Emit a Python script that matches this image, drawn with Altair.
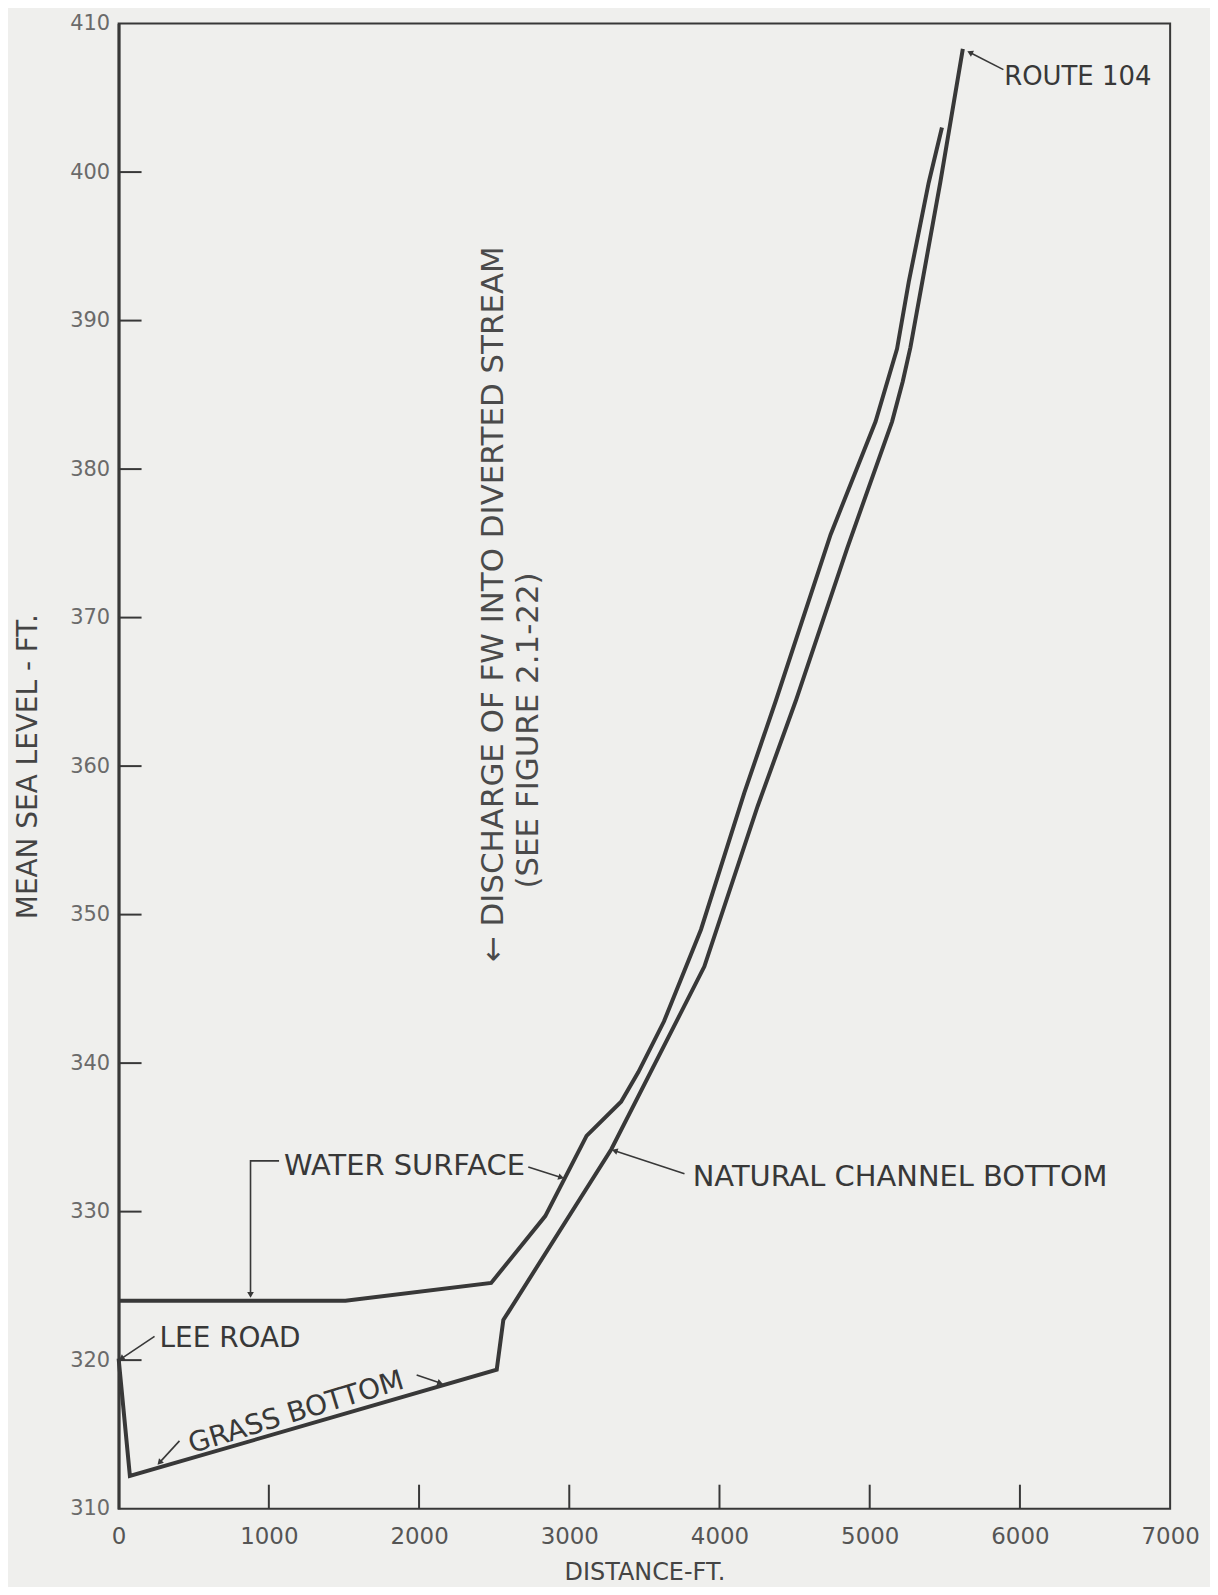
import math
import altair as alt
import pandas as pd

# ---------------- data ----------------
x_ticks = [0, 1000, 2000, 3000, 4000, 5000, 6000, 7000]
y_ticks = [310, 320, 330, 340, 350, 360, 370, 380, 390, 400, 410]

water_x = [0, 1510, 2480, 2840, 3115, 3345, 3460, 3630, 3877, 4165, 4375, 4740, 5039, 5182, 5260, 5393, 5481]
water_y = [324.0, 324.0, 325.2, 329.7, 335.1, 337.4, 339.4, 342.8, 349.0, 358.2, 364.4, 375.6, 383.2, 388.1, 392.6, 399.3, 403.0]

bottom_x = [0, 75, 2517, 2561, 3280, 3723, 3899, 4254, 4508, 4851, 5149, 5220, 5271, 5470, 5620]
bottom_y = [320.1, 312.2, 319.35, 322.7, 334.2, 343.0, 346.5, 357.3, 364.4, 374.7, 383.2, 385.9, 388.2, 399.3, 408.3]

# annotation leaders (data coordinates), arrowhead at last point
leader_ids = ["route", "route", "wsl", "wsl", "wsl", "wsr", "wsr", "ncb", "ncb",
              "lee", "lee", "gl", "gl", "gr", "gr"]
leader_x = [5890, 5667, 1068, 878, 878, 2727, 2946, 3767, 3302, 239, 18, 405, 272, 1984, 2141]
leader_y = [406.9, 408.05, 333.42, 333.42, 324.4, 333.0, 332.3, 332.55, 334.1, 321.6, 320.1,
            314.56, 313.1, 319.0, 318.46]

label_text = ["ROUTE 104", "WATER SURFACE", "NATURAL CHANNEL BOTTOM", "LEE ROAD"]
label_x = [5895, 1101, 3822, 272]
label_y = [406.4, 333.1, 332.35, 321.4]
label_size = [26, 29, 29, 28]

grass_text = ["GRASS BOTTOM"]
grass_x = [1183]
grass_y = [316.44]

note_text = ["\u2190 DISCHARGE OF FW INTO DIVERTED STREAM", "(SEE FIGURE 2.1-22)"]
note_x = [2498, 2734]
note_y = [370.9, 362.4]

# ---------------- layout / style ----------------
W, H = 1055, 1490
FONT = "DejaVu Sans"
INK = "#383838"
BG = "#efefed"

xs = alt.Scale(domain=[0, 7000], nice=False, zero=False)
ys = alt.Scale(domain=[310, 410], nice=False, zero=False)

x_axis = alt.Axis(
    values=x_ticks, title="DISTANCE-FT.", format="d", grid=False,
    ticks=False, tickSize=0, domain=False, labelFlush=False, labelOverlap=False,
    labelFont=FONT, labelFontSize=23, labelColor="#555", labelPadding=17,
    titleFont=FONT, titleFontSize=24, titleFontWeight="normal", titleColor="#444",
    titleY=64, titleBaseline="middle")
y_axis = alt.Axis(
    values=y_ticks, title="MEAN SEA LEVEL - FT.", format="d", grid=False,
    ticks=False, tickSize=0, domain=True, domainWidth=3, domainColor=INK,
    labelFlush=False, labelOverlap=False,
    labelFont=FONT, labelFontSize=21, labelColor="#6a6a6a", labelPadding=9,
    titleFont=FONT, titleFontSize=28, titleFontWeight="normal", titleColor="#444",
    titleAngle=270, titleX=-90, titleY=H / 2, titleAlign="center",
    titleBaseline="middle")


def X():
    return alt.X("x:Q", scale=xs, axis=x_axis, title="DISTANCE-FT.")


def Y():
    return alt.Y("y:Q", scale=ys, axis=y_axis, title="MEAN SEA LEVEL - FT.")


rows = []
for i, (x, y) in enumerate(zip(water_x, water_y)):
    rows.append({"series": "water", "x": x, "y": y, "i": i})
for i, (x, y) in enumerate(zip(bottom_x, bottom_y)):
    rows.append({"series": "bottom", "x": x, "y": y, "i": i})
lines_df = pd.DataFrame(rows)

lead_df = pd.DataFrame({"seg": leader_ids, "x": leader_x, "y": leader_y,
                        "i": list(range(len(leader_ids)))})

# arrowheads: last point of each leader, angle from previous point (pixel space)
heads = []
px_per_x = W / 7000.0
px_per_y = H / 100.0
for seg in dict.fromkeys(leader_ids):
    pts = [(x, y) for s, x, y in zip(leader_ids, leader_x, leader_y) if s == seg]
    (x1, y1), (x2, y2) = pts[-2], pts[-1]
    dx = (x2 - x1) * px_per_x
    dy = -(y2 - y1) * px_per_y
    ang = math.degrees(math.atan2(dx, -dy)) % 360
    heads.append({"x": x2, "y": y2, "angle": ang})
head_df = pd.DataFrame(heads)

lines = alt.Chart(lines_df).mark_line(color=INK, strokeWidth=4, strokeJoin="miter").encode(
    x=X(), y=Y(), detail="series:N", order="i:Q")

xtick_rules = alt.Chart(pd.DataFrame({"x": x_ticks[1:-1]})).mark_rule(
    color=INK, strokeWidth=2).encode(
    x=X(), y=alt.value(H), y2=alt.value(H - 24))

ytick_rules = alt.Chart(pd.DataFrame({"y": y_ticks[1:-1]})).mark_rule(
    color=INK, strokeWidth=2).encode(
    y=Y(), x=alt.value(0), x2=alt.value(23))

leaders = alt.Chart(lead_df).mark_line(color=INK, strokeWidth=1.6).encode(
    x=X(), y=Y(), detail="seg:N", order="i:Q")

arrowheads = alt.Chart(head_df).mark_point(
    shape="triangle-up", filled=True, color=INK, size=45, opacity=1).encode(
    x=X(), y=Y(), angle=alt.Angle("angle:Q", scale=None))

labels = alt.Chart(pd.DataFrame({"t": label_text, "x": label_x, "y": label_y,
                                 "s": label_size})).mark_text(
    align="left", baseline="middle", font=FONT, color=INK).encode(
    x=X(), y=Y(), text="t:N", size=alt.Size("s:Q", scale=None, legend=None))

grass = alt.Chart(pd.DataFrame({"t": grass_text, "x": grass_x, "y": grass_y})).mark_text(
    align="center", baseline="middle", font=FONT, fontSize=28, color=INK, angle=343).encode(
    x=X(), y=Y(), text="t:N")

notes = alt.Chart(pd.DataFrame({"t": note_text, "x": note_x, "y": note_y})).mark_text(
    align="center", baseline="middle", font=FONT, fontSize=31, color="#4a4a4a", angle=270).encode(
    x=X(), y=Y(), text="t:N")

chart = alt.layer(
    lines, xtick_rules, ytick_rules, leaders, arrowheads, labels, grass, notes
).properties(
    width=W, height=H,
    autosize=alt.AutoSizeParams(type="none"),
    padding={"left": 111, "top": 13, "right": 40, "bottom": 76},
    background=BG,
).configure_view(stroke=INK, strokeWidth=2)

chart.save("out.html", embed_options={"renderer": "svg", "actions": False})
